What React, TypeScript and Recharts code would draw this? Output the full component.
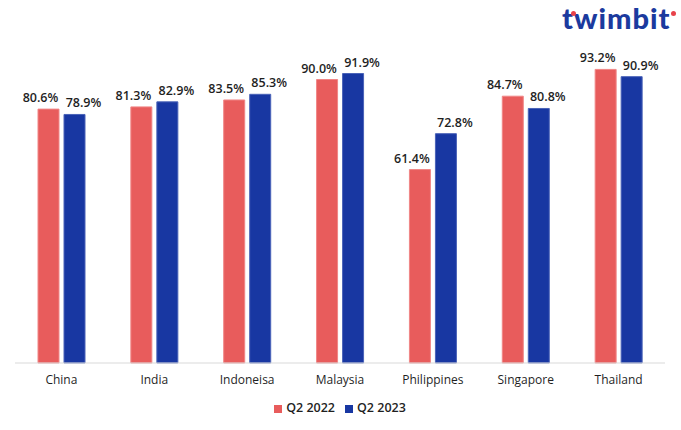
import { BarChart, Bar, XAxis, YAxis, Legend, LabelList } from "recharts";

const RED = "#e85c5c";
const BLUE = "#1837a2";
const TEXT = "#1f1f1f";
const FONT = "'Open Sans', sans-serif";

const countries = ["China", "India", "Indoneisa", "Malaysia", "Philippines", "Singapore", "Thailand"];
const q2_2022 = [80.6, 81.3, 83.5, 90.0, 61.4, 84.7, 93.2];
const q2_2023 = [78.9, 82.9, 85.3, 91.9, 72.8, 80.8, 90.9];

const data = countries.map((c, i) => ({ country: c, q22: q2_2022[i], q23: q2_2023[i] }));

// Excel pushes the value labels a little away from each other
function makeLabel(dx: number) {
  return (props: any) => {
    const { x, y, width, value } = props;
    return (
      <text
        x={x + width / 2 + dx}
        y={y - 7}
        textAnchor="middle"
        fill={TEXT}
        fontSize={12.5}
        fontWeight={600}
        fontFamily={FONT}
      >
        {Number(value).toFixed(1)}%
      </text>
    );
  };
}

function Logo() {
  return (
    <div style={{ position: "absolute", left: 562, top: 0, width: 117, height: 36 }}>
      <div
        style={{
          position: "absolute",
          left: 0,
          top: 0,
          lineHeight: "35px",
          fontFamily: "Lato, sans-serif",
          fontWeight: 900,
          fontSize: 29,
          color: "#1b3a9e",
          letterSpacing: 1,
          whiteSpace: "nowrap",
        }}
      >
        twimbit
      </div>
      <span style={{ position: "absolute", left: 9, top: 11, width: 5, height: 5, borderRadius: 3, background: "#e8424a" }} />
      <span style={{ position: "absolute", left: 109, top: 11, width: 5, height: 5, borderRadius: 3, background: "#e8424a" }} />
    </div>
  );
}

export default function App() {
  return (
    <div style={{ position: "absolute", left: 0, top: 0, width: 681, height: 430, background: "#fff" }}>
      <BarChart
        width={681}
        height={430}
        data={data}
        margin={{ top: 48, right: 16, left: 15, bottom: 20 }}
        barSize={21}
        barGap={5}
      >
        <XAxis
          dataKey="country"
          tickLine={false}
          axisLine={{ stroke: "#d9d9d9" }}
          tick={{ fill: TEXT, fontSize: 12, fontFamily: FONT, fontWeight: 500 }}
          tickMargin={6}
          interval={0}
        />
        <YAxis hide domain={[0, 100]} />
        <Legend
          verticalAlign="bottom"
          iconType="square"
          iconSize={8}
          wrapperStyle={{ bottom: 14, left: 20, fontSize: 12.5, fontFamily: FONT, fontWeight: 600, color: TEXT }}
          formatter={(v: string) => <span style={{ color: TEXT }}>{v}</span>}
        />
        <Bar dataKey="q22" name="Q2 2022" fill={RED} stroke="#f08686" strokeWidth={1} isAnimationActive={false}>
          <LabelList dataKey="q22" content={makeLabel(-8)} />
        </Bar>
        <Bar dataKey="q23" name="Q2 2023" fill={BLUE} stroke="#4a63b8" strokeWidth={1} isAnimationActive={false}>
          <LabelList dataKey="q23" content={makeLabel(9)} />
        </Bar>
      </BarChart>
      <Logo />
    </div>
  );
}
